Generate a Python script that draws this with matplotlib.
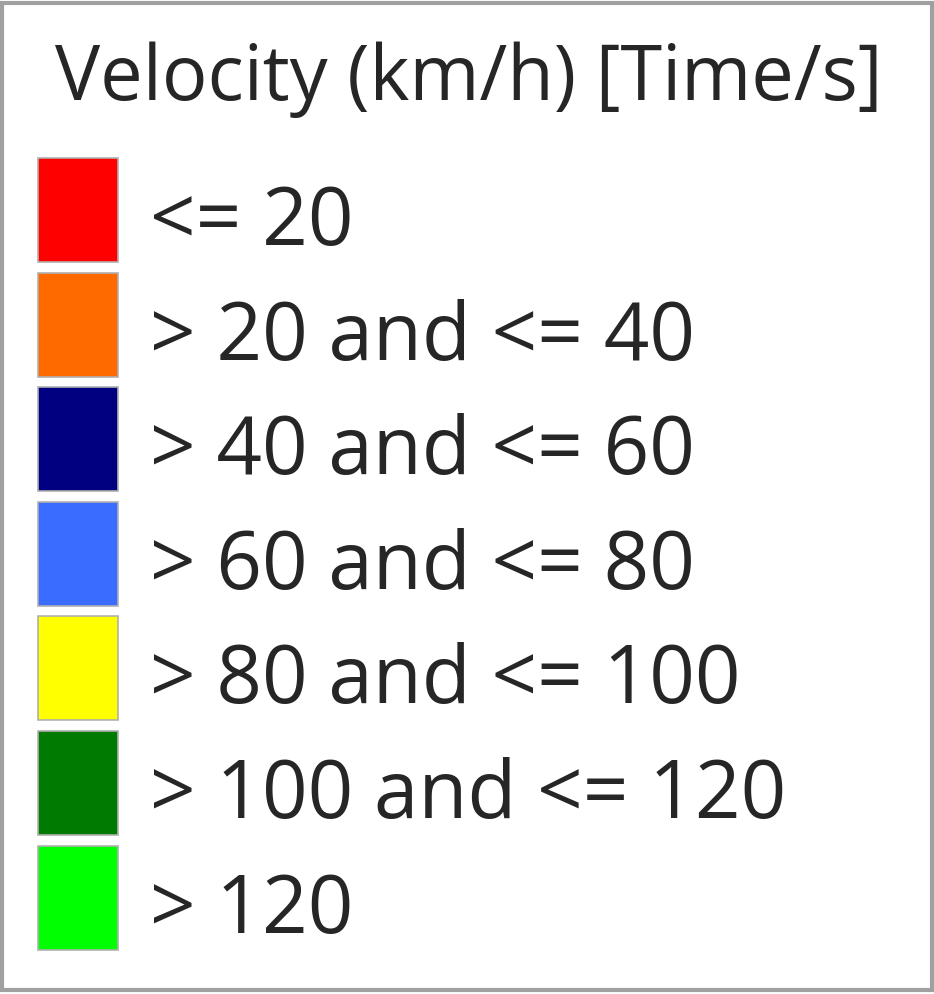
import matplotlib.pyplot as plt
from matplotlib.patches import Rectangle

title = 'Velocity (km/h) [Time/s]'
labels = ['<= 20', '> 20 and <= 40', '> 40 and <= 60', '> 60 and <= 80',
          '> 80 and <= 100', '> 100 and <= 120', '> 120']
colors = ['#ff0000', '#ff6a00', '#000080', '#3a6cff', '#ffff00', '#007a00', '#00ff00']

W, H = 934, 994
fig = plt.figure(figsize=(W / 100, H / 100), dpi=100)
ax = fig.add_axes([0, 0, 1, 1])
ax.set_xlim(0, W)
ax.set_ylim(H, 0)
ax.axis('off')

# legend rows, pixel layout
y0, step = 210, 114.6
ys = [y0 + i * step for i in range(len(labels))]
ax.barh(ys, 80, left=38, height=104, color=colors,
        edgecolor='#b0b0b0', linewidth=1.2)

for y, lab in zip(ys, labels):
    ax.text(150, y + 35, lab, fontsize=57.5, family='Open Sans',
            color='#262626', va='baseline', ha='left')

ax.text(55, 100, title, fontsize=54.5, family='Open Sans',
        color='#262626', va='baseline', ha='left')

# window frame
fig.patches.append(Rectangle((0.002, 0.004), 0.996, 0.993, transform=fig.transFigure,
                             fill=False, edgecolor='#a0a0a0', linewidth=3))

fig.savefig('out.png', dpi=100, facecolor='white')
